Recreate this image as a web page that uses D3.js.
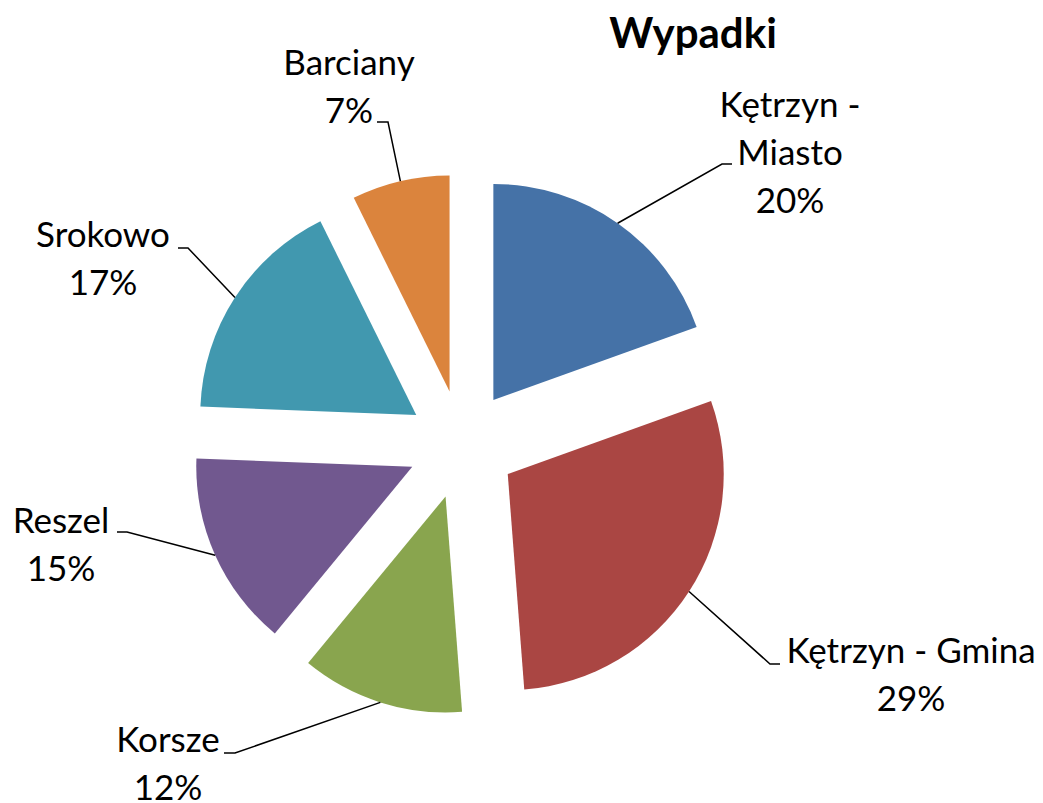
<!DOCTYPE html>
<html>
<head>
<meta charset="utf-8">
<script src="https://cdn.jsdelivr.net/npm/d3@7"></script>
<style>
  body { margin: 0; background: #fff; }
  text { font-family: Lato, "Open Sans", sans-serif; fill: #000; }
</style>
</head>
<body>
<div id="chart"></div>
<script>
// Data: number of accidents per commune
const title = "Wypadki"
const categories = ["Kętrzyn - Miasto", "Kętrzyn - Gmina", "Korsze", "Reszel", "Srokowo", "Barciany"]
const values = [8, 12, 5, 6, 7, 3]
const colors = ["#4572A7", "#AA4643", "#89A54E", "#71588F", "#4198AF", "#DB843D"]

// how each label is broken into lines (percent line added below)
const labelLines = [["Kętrzyn -", "Miasto"], ["Kętrzyn - Gmina"], ["Korsze"], ["Reszel"], ["Srokowo"], ["Barciany"]]

// label layout: text block centre, first baseline, elbow of leader line, side of the short tick
const labelLayout = [
  {cx: 790, y: 117, ex: 722, ey: 164, tick: 10},
  {cx: 911, y: 663, ex: 770, ey: 664, tick: 10},
  {cx: 168, y: 752, ex: 235, ey: 753, tick: -11},
  {cx: 61,  y: 533, ex: 127, ey: 532, tick: -10},
  {cx: 103, y: 247, ex: 188, ey: 248, tick: -10},
  {cx: 349, y: 75,  ex: 388, ey: 122, tick: -11}
]

const width = 1043
const height = 803
const cx = 462
const cy = 444.5
const radius = 216
const explode = 54.5
const lineHeight = 48

const svg = d3.select("#chart")
  .append("svg")
    .attr("width", width)
    .attr("height", height)

const total = d3.sum(values)
const pct = v => Math.round(v / total * 100) + "%"

const pie = d3.pie().sort(null).value(d => d)
const arcs = pie(values)

const arc = d3.arc()
  .innerRadius(0)
  .outerRadius(radius)

const mid = d => (d.startAngle + d.endAngle) / 2

const pieG = svg.append("g")
  .attr("transform", `translate(${cx},${cy})`)

// slices, each pushed out along its middle angle
pieG.selectAll("path.slice")
  .data(arcs).enter()
  .append("path")
    .attr("class", "slice")
    .attr("d", arc)
    .attr("fill", (d, i) => colors[i])
    .attr("transform", d => {
      let a = mid(d)
      return `translate(${Math.sin(a) * explode},${-Math.cos(a) * explode})`
    })

// leader lines: from the middle of the outer arc to the elbow, then a short horizontal tick
svg.selectAll("polyline.leader")
  .data(arcs).enter()
  .append("polyline")
    .attr("class", "leader")
    .attr("fill", "none")
    .attr("stroke", "#000")
    .attr("stroke-width", 1.5)
    .attr("points", (d, i) => {
      let a = mid(d)
      let r = radius + explode
      let sx = cx + Math.sin(a) * r
      let sy = cy - Math.cos(a) * r
      let l = labelLayout[i]
      return [[sx, sy], [l.ex, l.ey], [l.ex + l.tick, l.ey]].map(p => p.join(",")).join(" ")
    })

// labels
const labels = svg.selectAll("text.label")
  .data(arcs).enter()
  .append("text")
    .attr("class", "label")
    .attr("text-anchor", "middle")
    .style("font-size", "35px")

labels.each(function(d, i) {
  let l = labelLayout[i]
  let lines = labelLines[i].concat([pct(values[i])])
  d3.select(this).selectAll("tspan")
    .data(lines).enter()
    .append("tspan")
      .attr("x", l.cx)
      .attr("y", (t, j) => l.y + j * lineHeight)
      .text(t => t)
})

// title
svg.append("text")
  .attr("x", 693)
  .attr("y", 48)
  .attr("text-anchor", "middle")
  .style("font-size", "42px")
  .style("font-weight", "bold")
  .text(title)
</script>
</body>
</html>
